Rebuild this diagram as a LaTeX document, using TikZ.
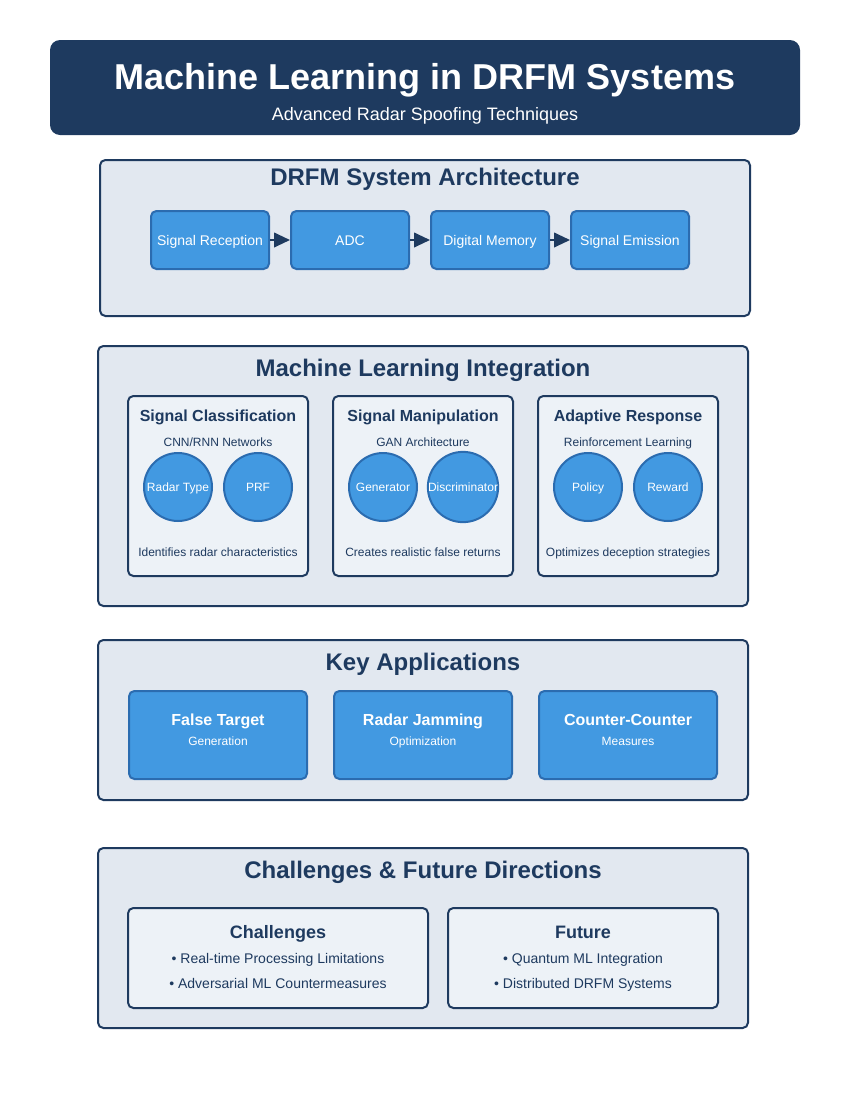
\documentclass[tikz,border=0pt]{standalone}
\usepackage{fontspec}
\setmainfont{Liberation Sans}
\usetikzlibrary{arrows.meta}

\definecolor{navy}{HTML}{1E3A5F}
\definecolor{skyblue}{HTML}{4299E1}
\definecolor{edgeblue}{HTML}{2B6CB0}
\definecolor{panelbg}{HTML}{E2E8F0}
\definecolor{cardbg}{HTML}{EDF2F7}

\newcommand{\setfs}[1]{\fontsize{#1}{#1}\selectfont}

\begin{document}
\begin{tikzpicture}[x=0.75pt, y=-0.75pt,
    fs/.style={font=\setfs{#1}, text height=0.72*#1pt, text depth=0pt},
    bfs/.style={font=\bfseries\setfs{#1}, text height=0.72*#1pt, text depth=0pt},
    panel/.style={draw=navy, fill=panelbg, line width=1.5pt, rounded corners=4pt},
    card/.style={draw=navy, fill=cardbg, line width=1.5pt, rounded corners=4pt},
    unit/.style={rectangle, draw=edgeblue, fill=skyblue, line width=1.5pt, rounded corners=4pt,
        minimum width=88.5pt, minimum height=43.5pt, text=white, fs=10.5},
    appbox/.style={rectangle, draw=edgeblue, fill=skyblue, line width=1.5pt, rounded corners=4pt,
        minimum width=133.5pt, minimum height=66pt},
    neuron/.style={circle, draw=edgeblue, fill=skyblue, line width=1.5pt, minimum size=51pt,
        inner sep=0pt, text=white, fs=9},
    paneltitle/.style={text=navy, bfs=18},
    cardtitle/.style={text=navy, bfs=12},
    smalltxt/.style={text=navy, fs=9},
    flow/.style={draw=navy, line width=1.5pt, -{Stealth[inset=0pt, length=12pt, width=11pt]}}]
    \useasboundingbox (0,0) rectangle (850,1100);

    % header
    \fill[navy, rounded corners=7.5pt] (50,40) rectangle (800,135);
    \node[text=white, bfs=27] (title) at (425,77) {Machine Learning in DRFM Systems};
    \node[text=white, fs=13.5] (subtitle) at (425,114) {Advanced Radar Spoofing Techniques};

    % architecture
    \draw[panel] (100,160) rectangle (750,316);
    \node[paneltitle] (archtitle) at (425,177) {DRFM System Architecture};
    \node[unit] (rx) at (210,240) {Signal Reception};
    \node[unit] (adc) at (350,240) {ADC};
    \node[unit] (mem) at (490,240) {Digital Memory};
    \node[unit] (tx) at (630,240) {Signal Emission};
    \draw[flow] (rx) -- (adc);
    \draw[flow] (adc) -- (mem);
    \draw[flow] (mem) -- (tx);

    % ml integration
    \draw[panel] (98,346) rectangle (748,606);
    \node[paneltitle] (mltitle) at (423,368) {Machine Learning Integration};

    \draw[card] (128,396) rectangle (308,576);
    \node[cardtitle] (clstitle) at (218,416) {Signal Classification};
    \node[smalltxt] (clssub) at (218,442) {CNN/RNN Networks};
    \node[neuron] (rtype) at (178,487) {Radar Type};
    \node[neuron] (prf) at (258,487) {PRF};
    \node[smalltxt] (clsnote) at (218,552) {Identifies radar characteristics};

    \draw[card] (333,396) rectangle (513,576);
    \node[cardtitle] (mantitle) at (423,416) {Signal Manipulation};
    \node[smalltxt] (mansub) at (423,442) {GAN Architecture};
    \node[neuron] (gen) at (383,487) {Generator};
    \node[neuron] (disc) at (463,487) {Discriminator};
    \node[smalltxt] (mannote) at (423,552) {Creates realistic false returns};

    \draw[card] (538,396) rectangle (718,576);
    \node[cardtitle] (adptitle) at (628,416) {Adaptive Response};
    \node[smalltxt] (adpsub) at (628,442) {Reinforcement Learning};
    \node[neuron] (policy) at (588,487) {Policy};
    \node[neuron] (reward) at (668,487) {Reward};
    \node[smalltxt] (adpnote) at (628,552) {Optimizes deception strategies};

    % applications
    \draw[panel] (98,640) rectangle (748,800);
    \node[paneltitle] (apptitle) at (423,662) {Key Applications};
    \node[appbox] (falsetgt) at (218,735) {};
    \node[appbox] (jamming) at (423,735) {};
    \node[appbox] (ccm) at (628,735) {};
    \node[text=white, bfs=12] (falsetgt1) at (218,720) {False Target};
    \node[text=white, fs=9] (falsetgt2) at (218,741) {Generation};
    \node[text=white, bfs=12] (jamming1) at (423,720) {Radar Jamming};
    \node[text=white, fs=9] (jamming2) at (423,741) {Optimization};
    \node[text=white, bfs=12] (ccm1) at (628,720) {Counter-Counter};
    \node[text=white, fs=9] (ccm2) at (628,741) {Measures};

    % challenges
    \draw[panel] (98,848) rectangle (748,1028);
    \node[paneltitle] (futtitle) at (423,870) {Challenges \& Future Directions};

    \draw[card] (128,908) rectangle (428,1008);
    \node[text=navy, bfs=13.5] (chal) at (278,932) {Challenges};
    \node[text=navy, fs=10.5] (chal1) at (278,958) {• Real-time Processing Limitations};
    \node[text=navy, fs=10.5] (chal2) at (278,983) {• Adversarial ML Countermeasures};

    \draw[card] (448,908) rectangle (718,1008);
    \node[text=navy, bfs=13.5] (fut) at (583,932) {Future};
    \node[text=navy, fs=10.5] (fut1) at (583,958) {• Quantum ML Integration};
    \node[text=navy, fs=10.5] (fut2) at (583,983) {• Distributed DRFM Systems};
\end{tikzpicture}
\end{document}
